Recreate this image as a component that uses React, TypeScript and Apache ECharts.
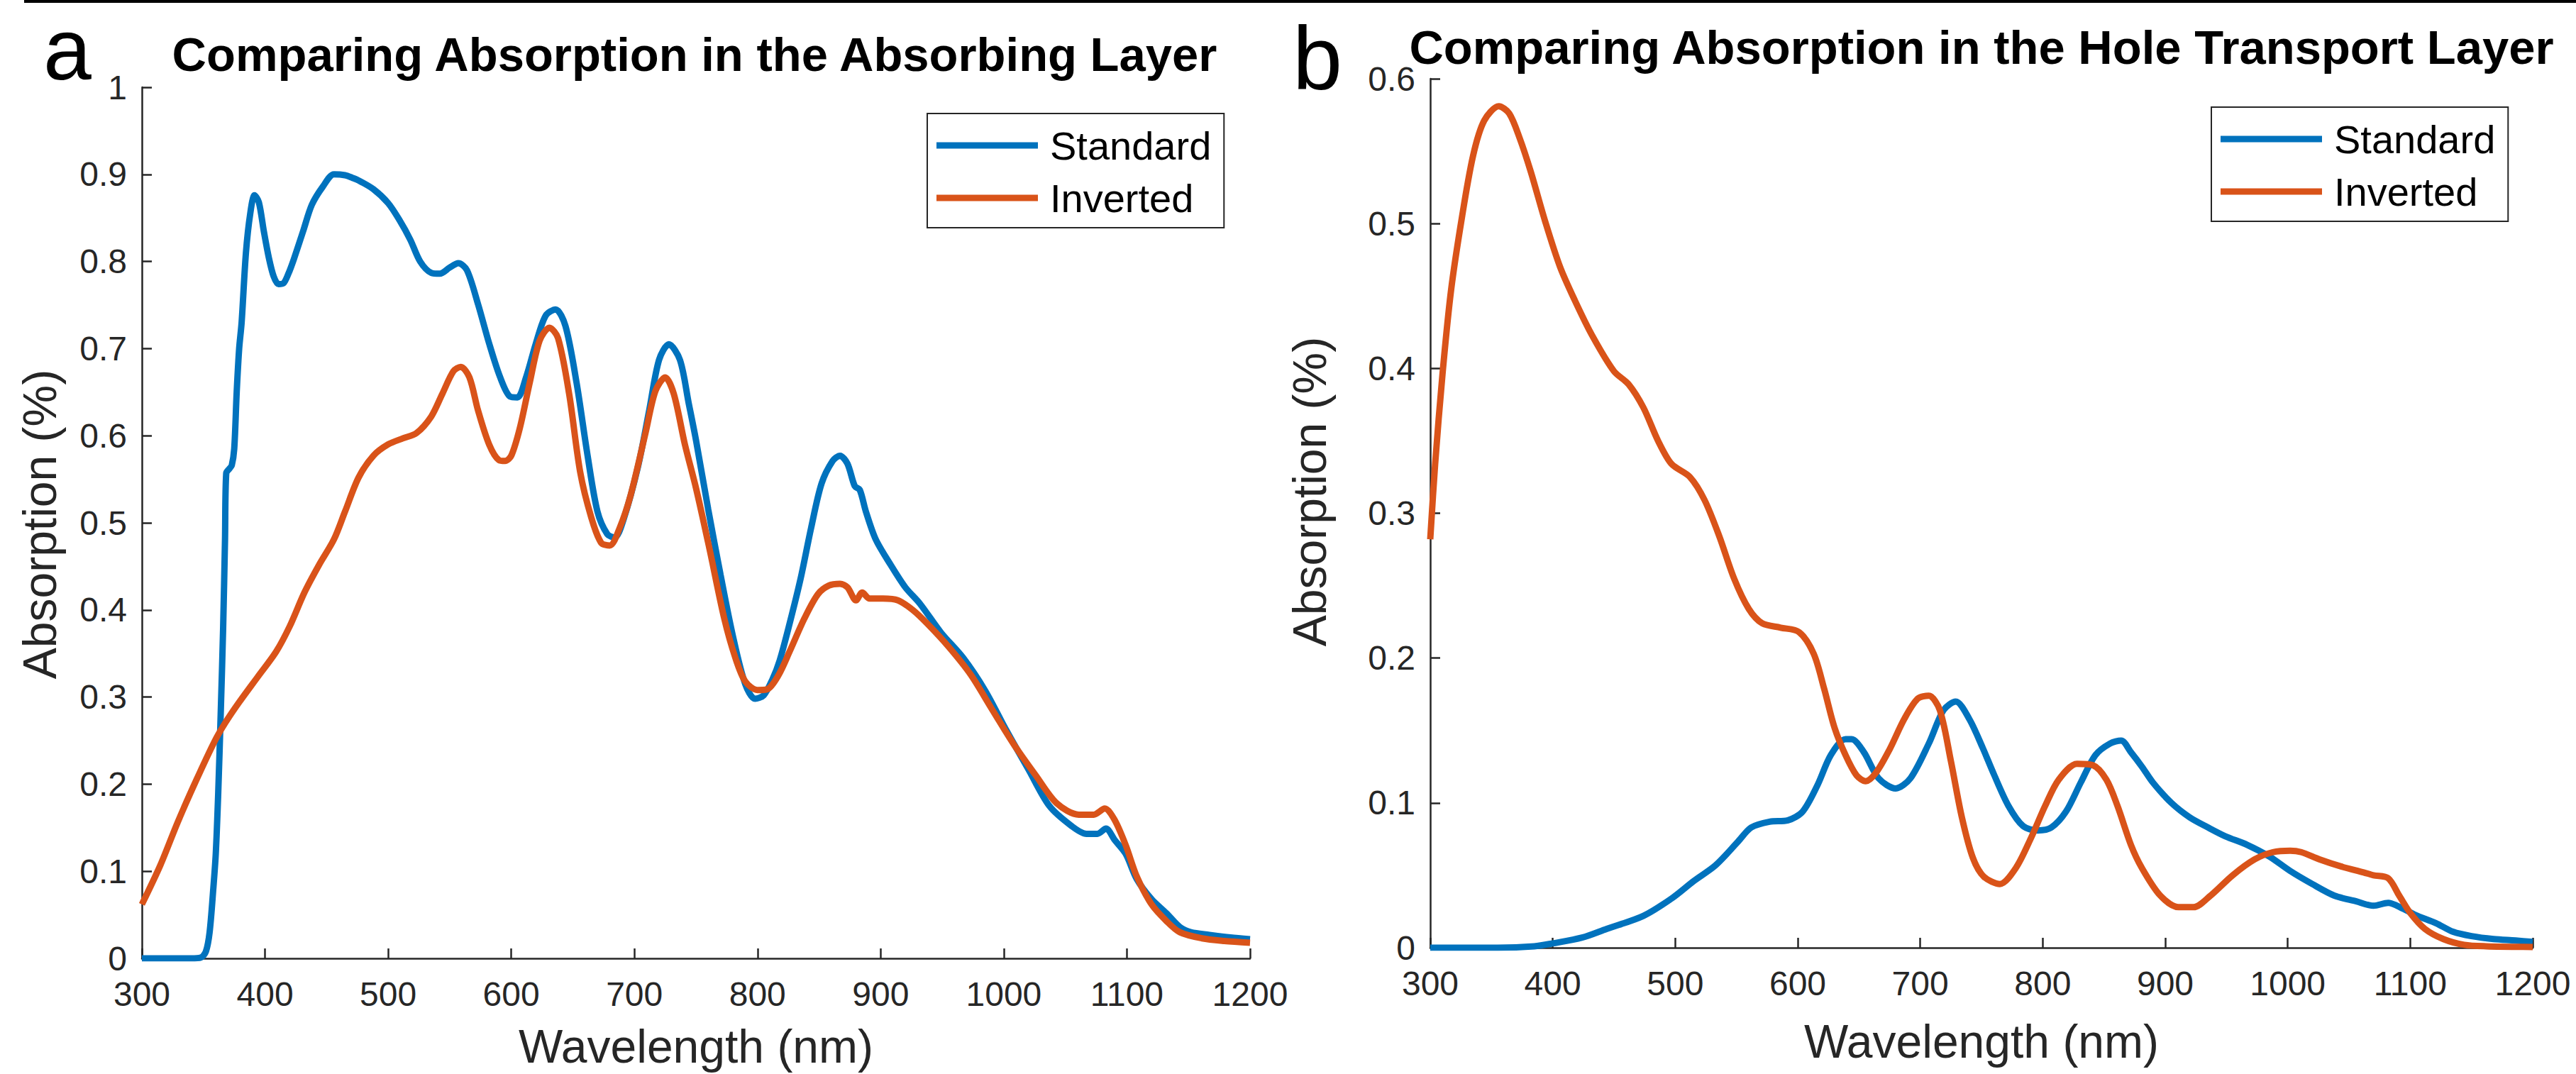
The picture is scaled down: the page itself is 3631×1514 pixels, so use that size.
import React, { useEffect, useRef } from "react";
import * as echarts from "echarts";

const FONT = "'Liberation Sans', Arial, Helvetica, sans-serif";
const AXIS_COLOR = "#262626";
const BLUE = "#0072BD";
const ORANGE = "#D95319";

const SERIES_NAMES = ["Standard", "Inverted"];
const TITLE_A = "Comparing Absorption in the Absorbing Layer";
const TITLE_B = "Comparing Absorption in the Hole Transport Layer";
const X_NAME = "Wavelength (nm)";
const Y_NAME = "Absorption (%)";

// Panel a — Standard
const aStdWl = [300, 320, 340, 348, 352, 355, 358, 360, 362, 364, 366, 367.5, 368.5, 371, 373, 375, 377, 379, 381, 384.5, 388, 391.5, 395, 399, 403, 407, 411, 415, 419, 423.5, 431, 438, 447, 456, 465, 471, 476, 488, 500, 509, 518, 526, 535, 542, 550, 557, 564, 573, 582, 591, 599, 605, 612, 620, 628, 636, 644, 653, 662, 670, 678, 684, 691, 703, 712, 720, 728, 737, 744, 750, 760, 770, 780, 790, 798, 805, 812, 818, 826, 835, 843.5, 852, 861, 867, 873, 879, 883, 888, 896, 908, 920, 932, 949, 967, 985, 1002, 1020, 1037, 1055, 1067, 1076, 1083, 1090, 1099, 1108, 1120, 1132, 1143, 1152, 1167, 1184, 1200];
const aStdVal = [0, 0, 0, 0.001, 0.008, 0.03, 0.08, 0.12, 0.19, 0.28, 0.38, 0.48, 0.557, 0.562, 0.566, 0.585, 0.65, 0.7, 0.73, 0.81, 0.855, 0.876, 0.868, 0.835, 0.805, 0.783, 0.774, 0.775, 0.786, 0.803, 0.835, 0.865, 0.886, 0.9, 0.899, 0.896, 0.893, 0.883, 0.867, 0.848, 0.825, 0.8, 0.787, 0.786, 0.793, 0.798, 0.79, 0.751, 0.706, 0.667, 0.645, 0.644, 0.667, 0.706, 0.738, 0.745, 0.726, 0.661, 0.577, 0.513, 0.487, 0.483, 0.503, 0.565, 0.629, 0.687, 0.705, 0.687, 0.638, 0.595, 0.515, 0.44, 0.37, 0.315, 0.298, 0.302, 0.32, 0.342, 0.384, 0.436, 0.494, 0.545, 0.571, 0.577, 0.568, 0.542, 0.538, 0.513, 0.481, 0.452, 0.426, 0.407, 0.374, 0.345, 0.307, 0.262, 0.217, 0.175, 0.152, 0.143, 0.143, 0.149, 0.136, 0.12, 0.091, 0.068, 0.052, 0.036, 0.03, 0.027, 0.024, 0.022];

// Panel a — Inverted
const aInvWl = [300, 315, 329, 344, 359, 368, 379, 394, 409, 420, 432, 444, 456, 465, 476, 488, 500, 512, 523, 535, 544, 553, 559, 566, 573, 582, 590, 595, 600, 607, 615, 623, 631, 638, 647, 656, 665, 673, 680, 688, 697, 709, 717, 725, 732, 741, 750, 761, 773, 782, 790, 800, 808, 817, 826, 838, 849, 858, 867, 873, 880, 885, 891, 902, 914, 926, 938, 955, 973, 990, 1008, 1026, 1043, 1061, 1073, 1082, 1090, 1099, 1108, 1120, 1132, 1143, 1161, 1179, 1200];
const aInvVal = [0.062, 0.107, 0.156, 0.204, 0.249, 0.271, 0.294, 0.323, 0.352, 0.381, 0.42, 0.452, 0.481, 0.513, 0.552, 0.577, 0.59, 0.597, 0.603, 0.622, 0.648, 0.674, 0.679, 0.667, 0.629, 0.59, 0.572, 0.571, 0.577, 0.609, 0.661, 0.709, 0.724, 0.712, 0.648, 0.558, 0.506, 0.477, 0.474, 0.494, 0.532, 0.603, 0.651, 0.667, 0.648, 0.59, 0.54, 0.47, 0.39, 0.345, 0.318, 0.308, 0.309, 0.325, 0.352, 0.39, 0.418, 0.428, 0.43, 0.426, 0.411, 0.42, 0.413, 0.413, 0.411, 0.4, 0.384, 0.358, 0.326, 0.287, 0.246, 0.21, 0.178, 0.165, 0.165, 0.172, 0.159, 0.13, 0.094, 0.062, 0.043, 0.03, 0.023, 0.02, 0.018];

// Panel b — Standard
const bStdWl = [300, 330, 355, 385, 400, 424, 444, 474, 497, 515, 533, 551, 562, 577, 592, 604, 616, 627, 639, 644, 654, 666, 680, 692, 707, 719, 729, 740, 751, 760, 772, 784, 796, 807, 819, 831, 843, 855, 864, 872, 881, 890, 905, 920, 935, 949, 967, 985, 1002, 1020, 1038, 1056, 1070, 1082, 1094, 1106, 1121, 1135, 1150, 1168, 1186, 1200];
const bStdVal = [0, 0, 0, 0.001, 0.003, 0.007, 0.013, 0.022, 0.034, 0.046, 0.057, 0.073, 0.083, 0.087, 0.088, 0.094, 0.112, 0.133, 0.144, 0.144, 0.135, 0.117, 0.11, 0.117, 0.141, 0.164, 0.17, 0.158, 0.138, 0.12, 0.098, 0.084, 0.081, 0.083, 0.094, 0.114, 0.133, 0.141, 0.143, 0.135, 0.125, 0.114, 0.1, 0.09, 0.083, 0.077, 0.071, 0.063, 0.053, 0.044, 0.036, 0.032, 0.029, 0.031, 0.027, 0.022, 0.017, 0.011, 0.008, 0.006, 0.005, 0.004];

// Panel b — Inverted
const bInvWl = [300, 304, 310, 317, 326, 335, 344, 356, 364.5, 373, 382, 394, 406, 418, 432, 450, 462, 474, 486, 497, 512, 524, 536, 548, 560, 571, 586, 601, 613, 621.5, 630, 639, 648, 655.5, 664, 675, 687, 698, 707, 716, 725, 734, 743, 752, 765, 778, 790, 802, 813, 828, 841, 852, 861, 872, 881, 896, 911, 923, 937, 955, 973, 988, 1002, 1011, 1026, 1044, 1062, 1070, 1082, 1091, 1100, 1112, 1127, 1144, 1162, 1200];
const bInvVal = [0.282, 0.334, 0.396, 0.454, 0.505, 0.547, 0.571, 0.581, 0.576, 0.559, 0.536, 0.501, 0.47, 0.447, 0.423, 0.398, 0.389, 0.373, 0.35, 0.334, 0.325, 0.309, 0.284, 0.255, 0.234, 0.224, 0.221, 0.218, 0.203, 0.179, 0.152, 0.133, 0.119, 0.115, 0.121, 0.137, 0.158, 0.172, 0.174, 0.164, 0.129, 0.09, 0.062, 0.049, 0.044, 0.055, 0.075, 0.098, 0.116, 0.127, 0.126, 0.116, 0.098, 0.071, 0.055, 0.036, 0.028, 0.028, 0.036, 0.05, 0.061, 0.066, 0.067, 0.066, 0.061, 0.056, 0.052, 0.05, 0.048, 0.036, 0.024, 0.013, 0.006, 0.002, 0.001, 0.0005];

// Axis ranges / ticks
const X_MIN = 300;
const X_MAX = 1200;
const X_STEP = 100;
const YA_MAX = 1;
const YB_MAX = 0.6;
const Y_STEP = 0.1;

const zip = (xs: number[], ys: number[]) => xs.map((x, i) => [x, ys[i]]);

const fmtY = (v: number) => {
  const r = Math.round(v * 10) / 10;
  return r === 0 ? "0" : String(r);
};
const fmtX = (v: number) => String(Math.round(v));

function makeX(gridIndex: number) {
  return {
    type: "value",
    gridIndex,
    min: X_MIN,
    max: X_MAX,
    interval: X_STEP,
    axisLine: { show: true, onZero: false, lineStyle: { color: AXIS_COLOR, width: 2.5 } },
    axisTick: { show: true, inside: true, length: 14, lineStyle: { color: AXIS_COLOR, width: 2.5 } },
    axisLabel: { fontSize: 48, color: AXIS_COLOR, fontFamily: FONT, margin: 26, formatter: fmtX },
    splitLine: { show: false },
  };
}

function makeY(gridIndex: number, max: number) {
  return {
    type: "value",
    gridIndex,
    min: 0,
    max,
    interval: Y_STEP,
    axisLine: { show: true, onZero: false, lineStyle: { color: AXIS_COLOR, width: 2.5 } },
    axisTick: { show: true, inside: true, length: 14, lineStyle: { color: AXIS_COLOR, width: 2.5 } },
    axisLabel: { fontSize: 48, color: AXIS_COLOR, fontFamily: FONT, margin: 21, formatter: fmtY },
    splitLine: { show: false },
  };
}

function makeLine(name: string, data: number[][], color: string, idx: number) {
  return {
    type: "line",
    name,
    data,
    xAxisIndex: idx,
    yAxisIndex: idx,
    showSymbol: false,
    symbol: "none",
    smooth: 0.3,
    color,
    lineStyle: { color, width: 9 },
    emphasis: { disabled: true },
  };
}

function makeLegend(left: number, top: number) {
  return {
    orient: "vertical",
    left,
    top,
    padding: [17, 18, 14, 13],
    itemGap: 18,
    itemWidth: 143,
    itemHeight: 9,
    icon: "rect",
    data: SERIES_NAMES,
    borderColor: AXIS_COLOR,
    borderWidth: 2,
    backgroundColor: "#ffffff",
    textStyle: { fontSize: 56, color: "#000", fontFamily: FONT, padding: [0, 0, 0, 12] },
  };
}

function txt(text: string, x: number, y: number, font: string, fill: string, rotation = 0, align = "center") {
  return {
    type: "text",
    x,
    y,
    rotation,
    silent: true,
    style: {
      text,
      font,
      fill,
      align,
      verticalAlign: "middle",
      textAlign: align,
      textVerticalAlign: "middle",
    },
  };
}

export default function App() {
  const ref = useRef<HTMLDivElement>(null);
  useEffect(() => {
    document.body.style.margin = "0";
    if (!ref.current) return;
    const chart = echarts.init(ref.current, null, { renderer: "svg" });
    const option = {
      animation: false,
      backgroundColor: "#ffffff",
      grid: [
        { left: 200, top: 123, width: 1562, height: 1228, containLabel: false },
        { left: 2016, top: 111, width: 1554, height: 1225, containLabel: false },
      ],
      xAxis: [makeX(0), makeX(1)],
      yAxis: [makeY(0, YA_MAX), makeY(1, YB_MAX)],
      legend: [makeLegend(1307, 160), makeLegend(3117, 151)],
      series: [
        makeLine(SERIES_NAMES[0], zip(aStdWl, aStdVal), BLUE, 0),
        makeLine(SERIES_NAMES[1], zip(aInvWl, aInvVal), ORANGE, 0),
        makeLine(SERIES_NAMES[0], zip(bStdWl, bStdVal), BLUE, 1),
        makeLine(SERIES_NAMES[1], zip(bInvWl, bInvVal), ORANGE, 1),
      ],
      graphic: [
        { type: "rect", silent: true, shape: { x: 34, y: 0, width: 3597, height: 4 }, style: { fill: "#000" } },
        txt("a", 61, 70, `122px ${FONT}`, "#000", 0, "left"),
        txt("b", 1822, 82, `126px ${FONT}`, "#000", 0, "left"),
        txt(TITLE_A, 979, 76, `bold 67px ${FONT}`, "#000"),
        txt(TITLE_B, 2793, 66, `bold 67px ${FONT}`, "#000"),
        txt(X_NAME, 981, 1475, `66px ${FONT}`, AXIS_COLOR),
        txt(X_NAME, 2793, 1468, `66px ${FONT}`, AXIS_COLOR),
        txt(Y_NAME, 56, 739, `66px ${FONT}`, AXIS_COLOR, Math.PI / 2),
        txt(Y_NAME, 1846, 693, `66px ${FONT}`, AXIS_COLOR, Math.PI / 2),
      ],
    };
    chart.setOption(option as any);
    return () => chart.dispose();
  }, []);
  return (
    <div
      ref={ref}
      style={{ position: "fixed", left: 0, top: 0, width: 3631, height: 1514, background: "#fff" }}
    />
  );
}
